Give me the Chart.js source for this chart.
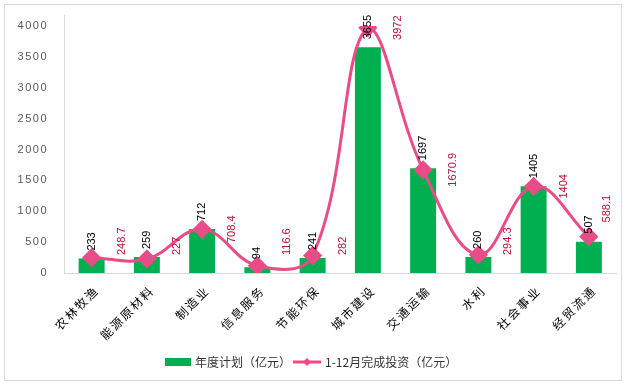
<!DOCTYPE html>
<html>
<head>
<meta charset="utf-8">
<script src="https://cdn.jsdelivr.net/npm/chart.js@4.4.0/dist/chart.umd.min.js"></script>
<style>
  html, body { margin: 0; padding: 0; background: #fff; }
  #wrap { width: 627px; height: 386px; position: relative; }
</style>
</head>
<body>
<div id="wrap"><canvas id="chart" width="627" height="386"></canvas></div>
<script>
// categories and values
const categories = ['农林牧渔', '能源原材料', '制造业', '信息服务', '节能环保', '城市建设', '交通运输', '水利', '社会事业', '经贸流通'];
const planValues = [233, 259, 712, 94, 241, 3655, 1697, 260, 1405, 507];
const doneValues = [248.7, 227, 708.4, 116.6, 282, 3972, 1670.9, 294.3, 1404, 588.1];
const yTicks = [0, 500, 1000, 1500, 2000, 2500, 3000, 3500, 4000];

const planLabel = '年度计划（亿元）';
const doneLabel = '1-12月完成投资（亿元）';

const GREEN = '#00B050';
const PINK = '#EA4C88';
const LABEL_RED = '#B8133A';
const CJK = '"Noto Sans CJK SC", "Liberation Sans", sans-serif';

// tick labels in the original are letter-spaced
function spaceLabels(scale, spacing) {
  if (scale._spaced) return;
  const orig = scale.drawLabels.bind(scale);
  scale.drawLabels = function (area) {
    this.ctx.save();
    this.ctx.letterSpacing = spacing;
    orig(area);
    this.ctx.restore();
  };
  scale._spaced = true;
}

// draws frame, value labels and the legend
const extras = {
  id: 'extras',
  afterUpdate(chart) {
    spaceLabels(chart.scales.x, '2px');
    spaceLabels(chart.scales.y, '1.5px');
  },
  beforeDraw(chart) {
    const ctx = chart.ctx;
    ctx.save();
    ctx.strokeStyle = '#d9d9d9';
    ctx.lineWidth = 1;
    ctx.strokeRect(4.5, 4.5, 617, 376);
    // y axis line runs a bit above the top tick
    const x = Math.round(chart.chartArea.left) + 0.5;
    ctx.beginPath();
    ctx.moveTo(x, 15);
    ctx.lineTo(x, chart.chartArea.top);
    ctx.stroke();
    ctx.restore();
  },
  afterDatasetsDraw(chart) {
    const ctx = chart.ctx;
    const area = chart.chartArea;
    ctx.save();
    ctx.font = '11px "Liberation Sans", Arial, sans-serif';
    ctx.textBaseline = 'middle';

    // bar labels, rotated, just above each bar
    ctx.fillStyle = '#000';
    ctx.textAlign = 'left';
    chart.getDatasetMeta(0).data.forEach((el, i) => {
      ctx.save();
      ctx.translate(el.x, el.y - 8);
      ctx.rotate(-Math.PI / 2);
      ctx.fillText(String(planValues[i]), 0, 0);
      ctx.restore();
    });

    // line labels, rotated, to the right of each point
    ctx.fillStyle = LABEL_RED;
    ctx.textAlign = 'center';
    chart.getDatasetMeta(1).data.forEach((el, i) => {
      const txt = String(doneValues[i]);
      const w = ctx.measureText(txt).width;
      let x = el.x + 30;
      let y = el.y;
      if (x > area.right - 10) {
        x = area.right - 10;
        y -= 28;
      }
      if (y + w / 2 > area.bottom - 18) y = area.bottom - 18 - w / 2;
      ctx.save();
      ctx.translate(x, y);
      ctx.rotate(-Math.PI / 2);
      ctx.fillText(txt, 0, 0);
      ctx.restore();
    });
    ctx.restore();
  },
  afterDraw(chart) {
    const ctx = chart.ctx;
    ctx.save();
    ctx.font = '12px ' + CJK;
    ctx.textBaseline = 'middle';
    ctx.textAlign = 'left';
    const y = 362;
    let x = 165;
    ctx.fillStyle = GREEN;
    ctx.fillRect(x, y - 4, 26, 8);
    x += 30;
    ctx.fillStyle = '#333';
    ctx.fillText(planLabel, x, y);
    x += ctx.measureText(planLabel).width + 2;
    ctx.strokeStyle = PINK;
    ctx.lineWidth = 3;
    ctx.beginPath();
    ctx.moveTo(x, y);
    ctx.lineTo(x + 28, y);
    ctx.stroke();
    ctx.fillStyle = PINK;
    ctx.beginPath();
    ctx.moveTo(x + 14, y - 4);
    ctx.lineTo(x + 18, y);
    ctx.lineTo(x + 14, y + 4);
    ctx.lineTo(x + 10, y);
    ctx.closePath();
    ctx.fill();
    ctx.fillStyle = '#333';
    ctx.fillText(doneLabel, x + 32, y);
    ctx.restore();
  }
};

new Chart(document.getElementById('chart'), {
  data: {
    labels: categories,
    datasets: [
      {
        type: 'bar',
        label: planLabel,
        data: planValues,
        backgroundColor: GREEN,
        categoryPercentage: 1,
        barPercentage: 0.47,
        order: 1
      },
      {
        type: 'line',
        label: doneLabel,
        data: doneValues,
        borderColor: PINK,
        backgroundColor: PINK,
        borderWidth: 3,
        tension: 0.4,
        pointStyle: 'rectRot',
        pointRadius: 7.5,
        pointBackgroundColor: PINK,
        pointBorderColor: PINK,
        order: 0
      }
    ]
  },
  options: {
    responsive: false,
    animation: false,
    layout: { padding: { left: 4, right: 7, top: 26, bottom: 43 } },
    plugins: {
      legend: { display: false },
      tooltip: { enabled: false }
    },
    scales: {
      x: {
        grid: { display: false },
        border: { display: true, color: '#d9d9d9' },
        ticks: {
          color: '#000',
          font: { family: CJK, size: 12 },
          maxRotation: 45,
          minRotation: 45,
          padding: 2,
          labelOffset: 5
        },
        afterFit(s) { s.height = 70; }
      },
      y: {
        min: 0,
        max: 4000,
        grid: { display: false },
        border: { display: true, color: '#d9d9d9' },
        afterBuildTicks(s) { s.ticks = yTicks.map(v => ({ value: v })); },
        ticks: {
          color: '#595959',
          font: { family: '"Liberation Sans", Arial, sans-serif', size: 11 },
          padding: 8,
          callback: v => String(v)
        },
        afterFit(s) { s.width = 60; }
      }
    }
  },
  plugins: [extras]
});
</script>
</body>
</html>
